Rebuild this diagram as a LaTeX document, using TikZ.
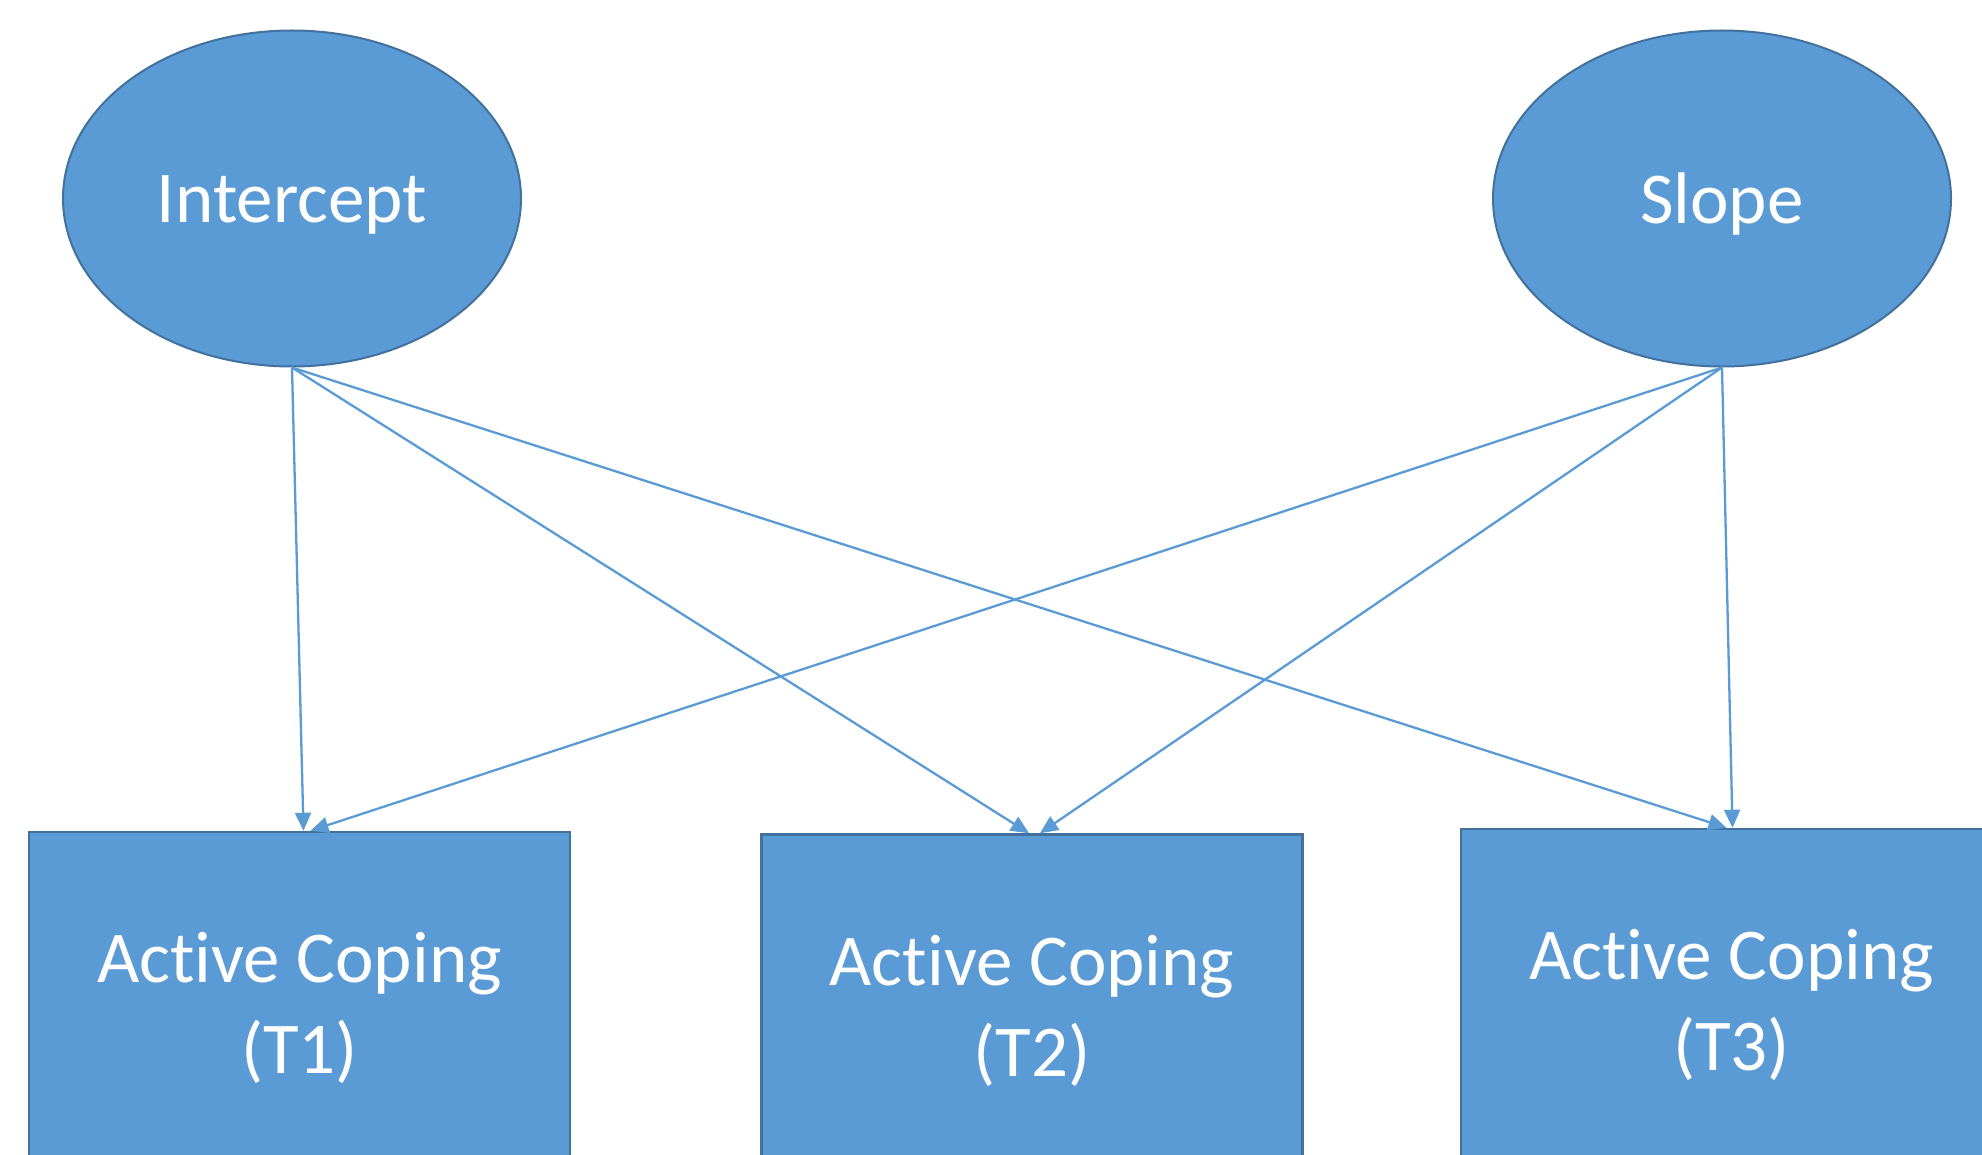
\documentclass[tikz,border=0pt]{standalone}
\usepackage{fontspec}
\setmainfont{Carlito}[Ligatures={NoCommon}]
\usetikzlibrary{arrows.meta,shapes.geometric,calc}
\definecolor{fillblue}{HTML}{5B9BD5}
\definecolor{edgeblue}{HTML}{41719C}
\tikzset{
  latent/.style={ellipse, draw=edgeblue, line width=2pt, fill=fillblue, text=white,
    minimum width=458pt, minimum height=336pt, inner sep=0pt,
    font=\fontsize{73}{91}\selectfont},
  obsbox/.style={rectangle, draw=edgeblue, line width=2.5pt, fill=fillblue, text=white,
    minimum width=541pt, minimum height=352pt, inner sep=0pt, align=center,
    font=\fontsize{73}{91}\selectfont},
  conn/.style={draw=fillblue, line width=2.3pt, -{Triangle[length=18pt,width=16pt]}}
}
\begin{document}
\begin{tikzpicture}[x=1pt,y=-1pt]
\useasboundingbox (0,0) rectangle (1982,1155);
\clip (0,0) rectangle (1982,1155);
\fill[white] (0,0) rectangle (1982,1155);
\node[latent] (int) at (292,198.5) {\raisebox{-6pt}[\height][\depth]{Intercept}};
\node[latent] (slo) at (1722,198.5) {\raisebox{-6pt}[\height][\depth]{Slope}};
\node[obsbox] (t1) at (299.5,1008) {Active Coping\\(T1)};
\node[obsbox] (t2) at (1032,1010.5) {Active Coping\\(T2)};
\node[obsbox] (t3) at (1731.5,1005) {Active Coping\\(T3)};
\draw[conn] (int.south) -- ($(t1.north)+(4,0)$);
\draw[conn] (int.south) -- ($(t2.north)+(-3,0)$);
\draw[conn] (int.south) -- ($(t3.north)+(-5,0)$);
\draw[conn] (slo.south) -- ($(t1.north)+(11,0)$);
\draw[conn] (slo.south) -- ($(t2.north)+(8,0)$);
\draw[conn] (slo.south) -- ($(t3.north)+(1,0)$);
\end{tikzpicture}
\end{document}
